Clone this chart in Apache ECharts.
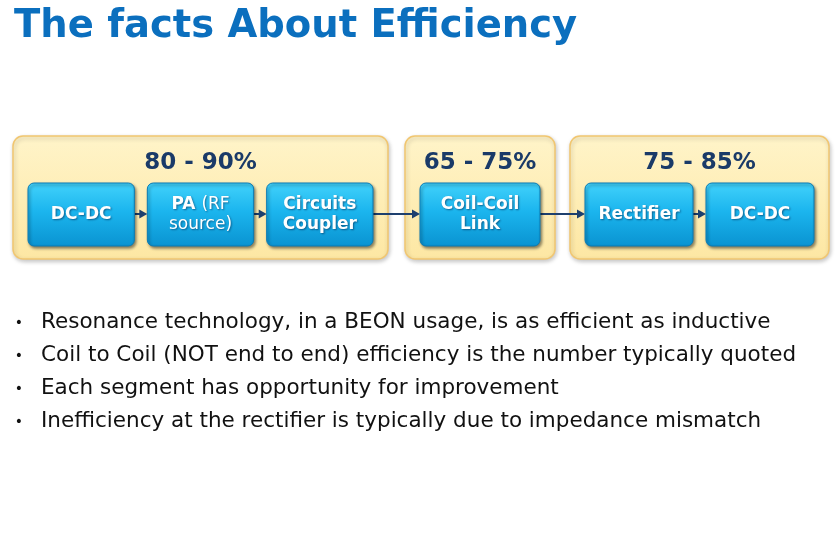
<!DOCTYPE html>
<html>
<head>
<meta charset="utf-8">
<script src="https://cdn.jsdelivr.net/npm/echarts@6/dist/echarts.min.js"></script>
<style>
  html, body { margin: 0; padding: 0; background: #fff; }
  #chart { width: 840px; height: 538px; }
</style>
</head>
<body>
<div id="chart"></div>
<script>
// Content
const titleText = 'The facts About Efficiency';
const groupRanges = ['80 - 90%', '65 - 75%', '75 - 85%'];
const stageNames = ['DC-DC', 'PA (RF\nsource)', 'Circuits\nCoupler', 'Coil-Coil\nLink', 'Rectifier', 'DC-DC'];
const stageGroups = [0, 0, 0, 1, 2, 2];
const bullets = [
  'Resonance technology, in a BEON usage, is as efficient as inductive',
  'Coil to Coil (NOT end to end) efficiency is the number typically quoted',
  'Each segment has opportunity for improvement',
  'Inefficiency at the rectifier is typically due to impedance mismatch'
];

// Layout, in the pixel space of the hidden axes
const FONT = '"DejaVu Sans", Verdana, sans-serif';
const groupSpans = [[13, 388], [405, 555], [570, 829]];
const groupTop = 136, groupBottom = 259;
const stageTop = 183, stageBottom = 246;
const groupPad = 15, stageGap = 13;
const arrowY = 214;
const bulletTop = 322, bulletStep = 33;

// stage x spans, laid out evenly inside their group
function stageSpan(i) {
  const g = stageGroups[i];
  const members = stageGroups.map((v, k) => k).filter((k) => stageGroups[k] === g);
  const n = members.length;
  const [gx0, gx1] = groupSpans[g];
  const w = (gx1 - gx0 - 2 * groupPad - (n - 1) * stageGap) / n;
  const pos = members.indexOf(i);
  const x0 = gx0 + groupPad + pos * (w + stageGap);
  return [x0, x0 + w];
}

// bold label, anything from "(" on in normal weight
function stageRich(name) {
  const idx = name.indexOf('(');
  const wrap = (tag, s) => s.split('\n').map((l) => (l ? '{' + tag + '|' + l + '}' : '')).join('\n');
  if (idx < 0) return wrap('b', name);
  return '{b|' + name.slice(0, idx) + '}' + wrap('n', name.slice(idx));
}

const stageTextStyle = {
  fontFamily: FONT, fontSize: 17, fill: '#ffffff', lineHeight: 20,
  textShadowBlur: 2, textShadowColor: 'rgba(0,30,70,0.55)', textShadowOffsetX: 1, textShadowOffsetY: 1
};

const chart = echarts.init(document.getElementById('chart'));

const option = {
  animation: false,
  title: {
    text: titleText,
    left: 9,
    top: 2,
    textStyle: {
      fontFamily: FONT,
      fontSize: 38.5,
      fontWeight: 'bold',
      color: '#0b6fbe'
    }
  },
  grid: { left: 0, right: 0, top: 0, bottom: 0 },
  xAxis: { type: 'value', min: 0, max: 840, show: false },
  yAxis: { type: 'value', min: 0, max: 538, inverse: true, show: false },
  series: [
    {
      name: 'groups',
      type: 'custom',
      data: groupRanges.map((r, i) => [i, 0]),
      renderItem: function (params, api) {
        const i = api.value(0);
        const [gx0, gx1] = groupSpans[i];
        const p0 = api.coord([gx0, groupTop]);
        const p1 = api.coord([gx1, groupBottom]);
        const mid = api.coord([(gx0 + gx1) / 2, 163]);
        return {
          type: 'group',
          children: [
            {
              type: 'rect',
              shape: { x: p0[0], y: p0[1], width: p1[0] - p0[0], height: p1[1] - p0[1], r: 10 },
              style: {
                fill: {
                  type: 'linear', x: 0, y: 0, x2: 0, y2: 1,
                  colorStops: [
                    { offset: 0, color: '#fff4c9' },
                    { offset: 1, color: '#fde7a3' }
                  ]
                },
                stroke: '#f1c670',
                lineWidth: 1.5,
                shadowBlur: 4,
                shadowOffsetX: 1,
                shadowOffsetY: 2,
                shadowColor: 'rgba(0,0,0,0.22)'
              }
            },
            {
              type: 'text',
              style: {
                text: groupRanges[i],
                x: mid[0],
                y: mid[1],
                textAlign: 'center',
                textVerticalAlign: 'middle',
                fontFamily: FONT,
                fontSize: 23,
                fontWeight: 'bold',
                fill: '#1a3a68'
              }
            }
          ]
        };
      }
    },
    {
      name: 'arrows',
      type: 'custom',
      data: stageNames.slice(1).map((s, i) => [i, 0]),
      renderItem: function (params, api) {
        const i = api.value(0);
        const a = api.coord([stageSpan(i)[1], arrowY]);
        const b = api.coord([stageSpan(i + 1)[0], arrowY]);
        return {
          type: 'group',
          children: [
            {
              type: 'line',
              shape: { x1: a[0], y1: a[1], x2: b[0] - 6, y2: b[1] },
              style: { stroke: '#1d3f6e', lineWidth: 2 }
            },
            {
              type: 'polygon',
              shape: { points: [[b[0] - 8, b[1] - 4.5], [b[0], b[1]], [b[0] - 8, b[1] + 4.5]] },
              style: { fill: '#1d3f6e' }
            }
          ]
        };
      }
    },
    {
      name: 'stages',
      type: 'custom',
      data: stageNames.map((s, i) => [i, 0]),
      renderItem: function (params, api) {
        const i = api.value(0);
        const [sx0, sx1] = stageSpan(i);
        const p0 = api.coord([sx0, stageTop]);
        const p1 = api.coord([sx1, stageBottom]);
        return {
          type: 'group',
          children: [
            {
              type: 'rect',
              shape: { x: p0[0], y: p0[1], width: p1[0] - p0[0], height: p1[1] - p0[1], r: 6 },
              style: {
                fill: {
                  type: 'linear', x: 0, y: 0, x2: 0, y2: 1,
                  colorStops: [
                    { offset: 0, color: '#42d2fb' },
                    { offset: 0.45, color: '#1bb5ee' },
                    { offset: 1, color: '#0a93d1' }
                  ]
                },
                stroke: '#0b7bb4',
                lineWidth: 1,
                shadowBlur: 3,
                shadowOffsetX: 1.5,
                shadowOffsetY: 2,
                shadowColor: 'rgba(0,0,0,0.45)'
              }
            },
            {
              type: 'text',
              style: {
                text: stageRich(stageNames[i]),
                x: (p0[0] + p1[0]) / 2,
                y: (p0[1] + p1[1]) / 2,
                textAlign: 'center',
                textVerticalAlign: 'middle',
                rich: {
                  b: Object.assign({ fontWeight: 'bold' }, stageTextStyle),
                  n: Object.assign({ fontWeight: 'normal' }, stageTextStyle)
                }
              }
            }
          ]
        };
      }
    },
    {
      name: 'bullets',
      type: 'custom',
      data: bullets.map((b, i) => [i, 0]),
      renderItem: function (params, api) {
        const i = api.value(0);
        const dot = api.coord([19, bulletTop + i * bulletStep]);
        const txt = api.coord([41, bulletTop + i * bulletStep]);
        return {
          type: 'group',
          children: [
            {
              type: 'text',
              style: {
                text: '•', x: dot[0], y: dot[1] + 1, textAlign: 'center', textVerticalAlign: 'middle',
                fontFamily: FONT, fontSize: 14, fill: '#111'
              }
            },
            {
              type: 'text',
              style: {
                text: bullets[i], x: txt[0], y: txt[1], textAlign: 'left', textVerticalAlign: 'middle',
                fontFamily: FONT, fontSize: 21.5, fill: '#111'
              }
            }
          ]
        };
      }
    }
  ]
};

chart.setOption(option);
</script>
</body>
</html>
